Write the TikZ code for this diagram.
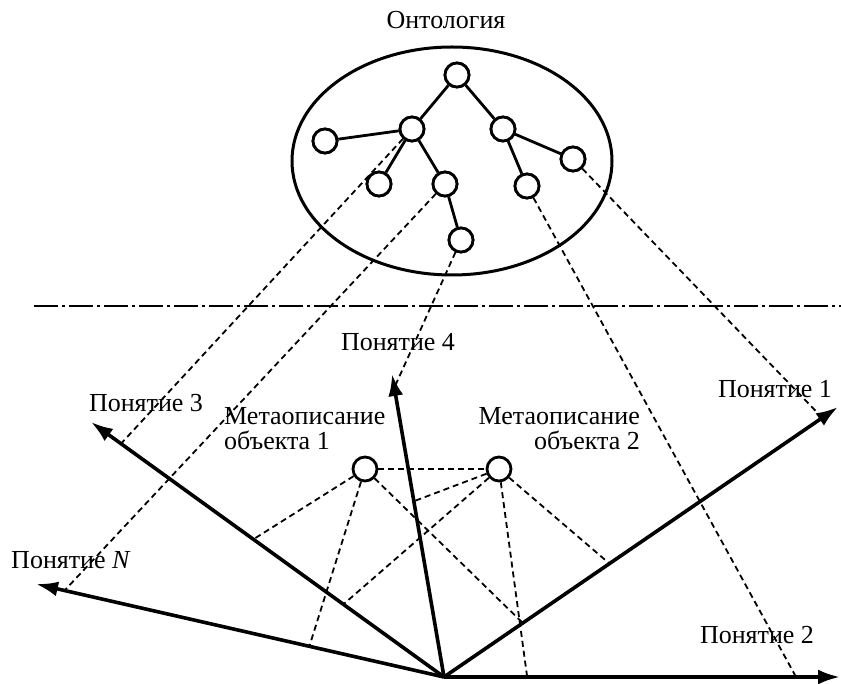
\documentclass[tikz,border=0pt]{standalone}
\usepackage{fontspec}
\setmainfont{Liberation Serif}
\usetikzlibrary{arrows.meta,calc,shapes.geometric}
\begin{document}
\begin{tikzpicture}[x=1pt,y=-1pt,
  tn/.style={circle,draw,line width=2.8pt,minimum size=24pt,inner sep=0pt,fill=white},
  edge/.style={line width=2.8pt},
  proj/.style={line width=1.8pt,dash pattern=on 6pt off 4pt},
  axis/.style={line width=3.6pt,-{Latex[length=22pt,width=15pt]}},
  sep/.style={line width=2.6pt,dash pattern=on 24pt off 4pt on 3pt off 4pt},
  lbl/.style={font=\fontsize{26}{25}\selectfont,inner sep=0pt}]
\useasboundingbox (0,0) rectangle (841,684);
% ontology
\node[lbl] (title) at (446,20) {Онтология};
\node[ellipse,draw,line width=3pt,minimum width=320pt,minimum height=228pt,inner sep=0pt] (onto) at (452,161) {};
% axes
\coordinate (O) at (444,677);
\coordinate (P1) at (838,407);
\coordinate (P2) at (840,677);
\coordinate (P3) at (91,422);
\coordinate (P4) at (392,374);
\coordinate (PN) at (36,584);
% separator
\coordinate (s1) at (34,306);
\coordinate (s2) at (841,306);
\draw[sep] (s1) -- (s2);
% tree nodes
\node[tn] (r) at (457,75) {};
\node[tn] (A) at (412,129) {};
\node[tn] (B) at (325,141) {};
\node[tn] (C) at (503,129) {};
\node[tn] (D) at (573,159) {};
\node[tn] (E) at (379,184) {};
\node[tn] (F) at (445,184) {};
\node[tn] (G) at (461,240) {};
\node[tn] (H) at (527,186) {};
\draw[proj] (A) -- ($(O)!0.915!(P3)$);
\draw[proj] (F) -- ($(O)!0.93!(PN)$);
\draw[proj] (G) -- ($(O)!0.955!(P4)$);
\draw[proj] (H) -- ($(O)!0.889!(P2)$);
\draw[proj] (D) -- ($(O)!0.96!(P1)$);
\draw[edge] (r) -- (A);
\draw[edge] (r) -- (C);
\draw[edge] (A) -- (B);
\draw[edge] (A) -- (E);
\draw[edge] (A) -- (F);
\draw[edge] (F) -- (G);
\draw[edge] (C) -- (H);
\draw[edge] (C) -- (D);
\foreach \n in {r,A,B,C,D,E,F,G,H} \node[tn] at (\n) {};
% metadescriptions
\node[tn] (M1) at (365,469) {};
\node[tn] (M2) at (499,469) {};
\draw[proj] (M1) -- (M2);
\draw[proj] (M1) -- ($(O)!0.54!(P3)$);
\draw[proj] (M1) -- ($(O)!0.33!(PN)$);
\draw[proj] (M1) -- ($(O)!0.2!(P1)$);
\draw[proj] (M2) -- ($(O)!0.58!(P4)$);
\draw[proj] (M2) -- ($(O)!0.285!(P3)$);
\draw[proj] (M2) -- ($(O)!0.21!(P2)$);
\draw[proj] (M2) -- ($(O)!0.42!(P1)$);
\draw[axis] (O) -- (P1);
\draw[axis] (O) -- (P2);
\draw[axis] (O) -- (P3);
\draw[axis] (O) -- (P4);
\draw[axis] (O) -- (PN);
% labels
\node[lbl] (l3) at (146,403) {Понятие 3};
\node[lbl] (lN) at (71,560) {Понятие \textit{N}};
\node[lbl] (l4) at (398,342) {Понятие 4};
\node[lbl] (l1) at (775,389) {Понятие 1};
\node[lbl] (l2) at (757,635) {Понятие 2};
\node[lbl,align=left,anchor=west] (m1) at (224,429) {Метаописание\\объекта 1};
\node[lbl,align=right,anchor=east] (m2) at (640,429) {Метаописание\\объекта 2};
\end{tikzpicture}
\end{document}
